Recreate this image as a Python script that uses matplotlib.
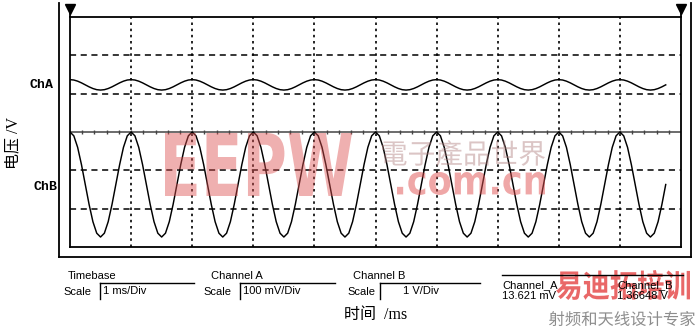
import numpy as np
import matplotlib
matplotlib.use("Agg")
import matplotlib.pyplot as plt
from matplotlib.lines import Line2D
from matplotlib.textpath import TextPath
from matplotlib.patches import PathPatch
from matplotlib.font_manager import FontProperties
from matplotlib.transforms import Affine2D

# 读自画面的数据 (one period, 16 samples per ms)
samples_per_ms = 16
chA_period_mV = [13.6, 12.6, 9.6, 5.2, 0.0, -5.2, -9.6, -12.6,
                 -13.6, -12.6, -9.6, -5.2, 0.0, 5.2, 9.6, 12.6]
chB_period_V = [1.37, 1.27, 0.97, 0.52, 0.0, -0.52, -0.97, -1.27,
                -1.37, -1.27, -0.97, -0.52, 0.0, 0.52, 0.97, 1.27]
n_periods = 10
t_end_ms = 9.75

chA_scale_mV = 100.0   # mV/Div
chB_scale_V = 1.0      # V/Div
chA_offset_div = 1.23
chB_offset_div = -1.37
cursor_t = [0, 10]

W, H = 700, 329
def fx(x):
    return x / W
def fy(y):
    return 1 - y / H

fig = plt.figure(figsize=(7, 3.29), dpi=100)

# 波形显示区
ax = fig.add_axes([fx(70), fy(247), fx(681) - fx(70), fy(17) - fy(247)])
ax.set_xlim(0, 10)
ax.set_ylim(-3, 3)
ax.set_xticks([])
ax.set_yticks([])
for s in ax.spines.values():
    s.set_linewidth(1.3)
    s.set_color("black")

for t in range(1, 10):
    ax.axvline(t, color="black", lw=1.2, ls=(0, (1.5, 2.2)))
for y in [-2, -1, 1, 2]:
    ax.axhline(y, color="black", lw=1.1, ls=(0, (4, 3)))
ax.axhline(0, color="#444444", lw=1.1)
ax.vlines(np.arange(0.2, 10, 0.2), -0.06, 0.06, color="#444444", lw=1.0)

n = int(t_end_ms * samples_per_ms) + 1
t = np.arange(n) / samples_per_ms
chA = np.tile(chA_period_mV, n_periods)[:n] / chA_scale_mV + chA_offset_div
chB = np.tile(chB_period_V, n_periods)[:n] / chB_scale_V + chB_offset_div
ax.plot(t, chA, color="black", lw=1.05)
ax.plot(t, chB, color="black", lw=1.05)

# 游标
ax.vlines(cursor_t, 3, 3.2, color="black", lw=1.3, clip_on=False)
ax.plot(cursor_t, [3.2, 3.2], ls="none", marker="v", ms=7.5, color="black",
        clip_on=False)

# 外框 (U形)
for xs, ys in [([59, 59], [3, 257]), ([59, 691], [257, 257]), ([691, 691], [3, 257])]:
    fig.add_artist(Line2D([fx(x) for x in xs], [fy(y) for y in ys],
                          color="black", lw=1.3, transform=fig.transFigure))

mono = dict(family="Liberation Mono", weight="bold", size=9.5)
fig.text(fx(30), fy(85), "ChA", va="center", ha="left", **mono)
fig.text(fx(33), fy(187), "ChB", va="center", ha="left", **mono)

fig.text(fx(13), fy(143), "电压 /V", rotation=90, va="center", ha="center",
         family=["Liberation Serif", "Noto Sans CJK SC"], size=11.5)
fig.text(fx(376), fy(315), "时间  /ms", va="center", ha="center",
         family=["Liberation Serif", "Noto Sans CJK SC"], size=11.5)

# 底部设置栏
sans = dict(family="Liberation Sans", size=8)
panel = [("Timebase", 68, 100, 194, "1 ms/Div", 103, 63),
         ("Channel A", 211, 240, 335, "100 mV/Div", 243, 203),
         ("Channel B", 353, 380, 480, "1 V/Div", 403, 347)]
for title, tx, bx, ex, val, vx, sx in panel:
    fig.text(fx(tx), fy(276), title, va="center", ha="left", **sans)
    fig.text(fx(sx), fy(292), "Scale", va="center", ha="left", **sans)
    fig.text(fx(vx), fy(291), val, va="center", ha="left", **sans)
    fig.add_artist(Line2D([fx(bx), fx(ex)], [fy(283), fy(283)], color="black",
                          lw=1.0, transform=fig.transFigure))
    fig.add_artist(Line2D([fx(bx), fx(bx)], [fy(283), fy(299)], color="black",
                          lw=1.0, transform=fig.transFigure))

fig.add_artist(Line2D([fx(502), fx(683)], [fy(275), fy(275)], color="black",
                      lw=1.0, transform=fig.transFigure))
fig.text(fx(502), fy(285), "Channel_A", va="center", ha="left", **sans)
fig.text(fx(502), fy(296), "13.621 mV", va="center", ha="left", **sans)
fig.text(fx(617), fy(285), "Channel_B", va="center", ha="left", **sans)
fig.text(fx(617), fy(296), "1.36648 V", va="center", ha="left", **sans)


# 水印
def fit_text(s, x0, y0, x1, y1, color, alpha, family, weight="normal"):
    tp = TextPath((0, 0), s, size=100, prop=FontProperties(family=family, weight=weight))
    bb = tp.get_extents()
    tr = (Affine2D().translate(-bb.x0, -bb.y0)
          .scale((fx(x1) - fx(x0)) / bb.width, (fy(y0) - fy(y1)) / bb.height)
          .translate(fx(x0), fy(y1)))
    fig.add_artist(PathPatch(tp, facecolor=color, edgecolor="none", alpha=alpha,
                             transform=tr + fig.transFigure))


fit_text("EEPW", 165, 133, 352, 196, "#dd5050", 0.45, "DejaVu Sans", "bold")
fit_text("電子產品世界", 382, 140, 545, 166, "#b08080", 0.45, "Noto Sans CJK SC")
fit_text(".com.cn", 397, 172, 545, 195, "#e05050", 0.5, "DejaVu Sans", "bold")
fit_text("易迪拓培训", 556, 270, 690, 300, "#e02828", 0.7, "Noto Sans CJK SC", "bold")
fit_text("射频和天线设计专家", 549, 311, 695, 326, "#707070", 0.8, "Noto Sans CJK SC")

fig.savefig("out.png", dpi=100)
